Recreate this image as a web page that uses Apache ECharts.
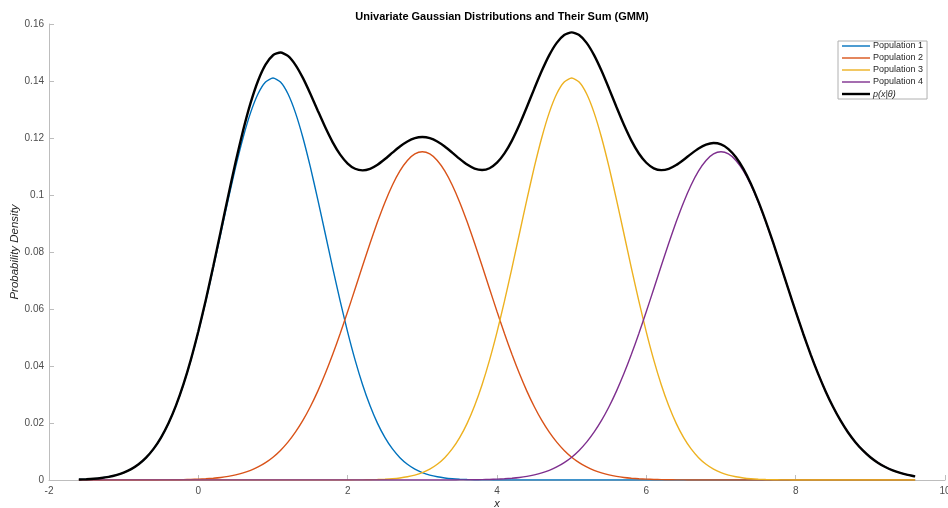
<!DOCTYPE html>
<html>
<head>
<meta charset="utf-8">
<script src="https://cdn.jsdelivr.net/npm/echarts@6/dist/echarts.min.js"></script>
<style>
  html, body { margin: 0; padding: 0; background: #fff; }
  #chart { width: 948px; height: 508px; }
</style>
</head>
<body>
<div id="chart"></div>
<script>
// x positions the curves were read at (step 0.1 from -1.6 to 9.6)
var xs = [
  -1.6, -1.5, -1.4, -1.3, -1.2, -1.1, -1.0, -0.9, -0.8, -0.7, -0.6, -0.5, -0.4, -0.3, -0.2, -0.1,
  0.0, 0.1, 0.2, 0.3, 0.4, 0.5, 0.6, 0.7, 0.8, 0.9, 1.0, 1.1, 1.2, 1.3, 1.4, 1.5, 1.6, 1.7, 1.8, 1.9,
  2.0, 2.1, 2.2, 2.3, 2.4, 2.5, 2.6, 2.7, 2.8, 2.9, 3.0, 3.1, 3.2, 3.3, 3.4, 3.5, 3.6, 3.7, 3.8, 3.9,
  4.0, 4.1, 4.2, 4.3, 4.4, 4.5, 4.6, 4.7, 4.8, 4.9, 5.0, 5.1, 5.2, 5.3, 5.4, 5.5, 5.6, 5.7, 5.8, 5.9,
  6.0, 6.1, 6.2, 6.3, 6.4, 6.5, 6.6, 6.7, 6.8, 6.9, 7.0, 7.1, 7.2, 7.3, 7.4, 7.5, 7.6, 7.7, 7.8, 7.9,
  8.0, 8.1, 8.2, 8.3, 8.4, 8.5, 8.6, 8.7, 8.8, 8.9, 9.0, 9.1, 9.2, 9.3, 9.4, 9.5, 9.6]

var pop1 = [
  0.00016, 0.00027, 0.00044, 0.00071, 0.00112, 0.00172, 0.00258, 0.00382, 0.00552, 0.00784, 0.01090, 0.01487,
  0.01987, 0.02603, 0.03342, 0.04206, 0.05189, 0.06275, 0.07437, 0.08641, 0.09841, 0.10985, 0.12019, 0.12891,
  0.13552, 0.13964, 0.14105, 0.13964, 0.13552, 0.12891, 0.12019, 0.10985, 0.09841, 0.08641, 0.07437, 0.06275,
  0.05189, 0.04206, 0.03342, 0.02603, 0.01987, 0.01487, 0.01090, 0.00784, 0.00552, 0.00382, 0.00258, 0.00172,
  0.00112, 0.00071, 0.00044, 0.00027, 0.00016, 0.00010, 0.00006, 0.00003, 0.00002, 0.00001,
  0, 0, 0, 0, 0, 0, 0, 0, 0, 0, 0, 0, 0, 0, 0, 0, 0, 0, 0, 0, 0, 0, 0, 0, 0, 0, 0, 0, 0, 0, 0, 0, 0, 0, 0,
  0, 0, 0, 0, 0, 0, 0, 0, 0, 0, 0, 0, 0, 0, 0, 0, 0, 0, 0, 0, 0, 0, 0, 0, 0]

var pop2 = [
  0, 0, 0, 0, 0, 0, 0, 0,
  0.00001, 0.00001, 0.00002, 0.00003, 0.00005, 0.00008, 0.00013, 0.00019, 0.00029, 0.00042, 0.00062, 0.00089,
  0.00127, 0.00179, 0.00248, 0.00339, 0.00457, 0.00609, 0.00800, 0.01038, 0.01328, 0.01677, 0.02090, 0.02570,
  0.03118, 0.03733, 0.04410, 0.05140, 0.05913, 0.06711, 0.07517, 0.08307, 0.09059, 0.09749, 0.10351, 0.10846,
  0.11213, 0.11440, 0.11517, 0.11440, 0.11213, 0.10846, 0.10351, 0.09749, 0.09059, 0.08307, 0.07517, 0.06711,
  0.05913, 0.05140, 0.04410, 0.03733, 0.03118, 0.02570, 0.02090, 0.01677, 0.01328, 0.01038, 0.00800, 0.00609,
  0.00457, 0.00339, 0.00248, 0.00179, 0.00127, 0.00089, 0.00062, 0.00042, 0.00029, 0.00019, 0.00013, 0.00008,
  0.00005, 0.00003, 0.00002, 0.00001, 0.00001,
  0, 0, 0, 0, 0, 0, 0, 0, 0, 0, 0, 0, 0, 0, 0, 0, 0, 0, 0, 0, 0, 0, 0, 0, 0, 0, 0, 0]

var pop3 = [
  0, 0, 0, 0, 0, 0, 0, 0, 0, 0, 0, 0, 0, 0, 0, 0, 0, 0, 0, 0, 0, 0, 0, 0, 0, 0, 0, 0, 0, 0, 0, 0, 0, 0, 0,
  0.00001, 0.00002, 0.00003, 0.00006, 0.00010, 0.00016, 0.00027, 0.00044, 0.00071, 0.00112, 0.00172, 0.00258,
  0.00382, 0.00552, 0.00784, 0.01090, 0.01487, 0.01987, 0.02603, 0.03342, 0.04206, 0.05189, 0.06275, 0.07437,
  0.08641, 0.09841, 0.10985, 0.12019, 0.12891, 0.13552, 0.13964, 0.14105, 0.13964, 0.13552, 0.12891, 0.12019,
  0.10985, 0.09841, 0.08641, 0.07437, 0.06275, 0.05189, 0.04206, 0.03342, 0.02603, 0.01987, 0.01487, 0.01090,
  0.00784, 0.00552, 0.00382, 0.00258, 0.00172, 0.00112, 0.00071, 0.00044, 0.00027, 0.00016, 0.00010, 0.00006,
  0.00003, 0.00002, 0.00001,
  0, 0, 0, 0, 0, 0, 0, 0, 0, 0, 0, 0, 0, 0, 0]

var pop4 = [
  0, 0, 0, 0, 0, 0, 0, 0, 0, 0, 0, 0, 0, 0, 0, 0, 0, 0, 0, 0, 0, 0, 0, 0, 0, 0, 0, 0, 0, 0, 0, 0, 0, 0, 0,
  0, 0, 0, 0, 0, 0, 0, 0, 0, 0, 0, 0, 0,
  0.00001, 0.00001, 0.00002, 0.00003, 0.00005, 0.00008, 0.00013, 0.00019, 0.00029, 0.00042, 0.00062, 0.00089,
  0.00127, 0.00179, 0.00248, 0.00339, 0.00457, 0.00609, 0.00800, 0.01038, 0.01328, 0.01677, 0.02090, 0.02570,
  0.03118, 0.03733, 0.04410, 0.05140, 0.05913, 0.06711, 0.07517, 0.08307, 0.09059, 0.09749, 0.10351, 0.10846,
  0.11213, 0.11440, 0.11517, 0.11440, 0.11213, 0.10846, 0.10351, 0.09749, 0.09059, 0.08307, 0.07517, 0.06711,
  0.05913, 0.05140, 0.04410, 0.03733, 0.03118, 0.02570, 0.02090, 0.01677, 0.01328, 0.01038, 0.00800, 0.00609,
  0.00457, 0.00339, 0.00248, 0.00179, 0.00127]

var mixture = [
  0.00016, 0.00027, 0.00044, 0.00071, 0.00112, 0.00172, 0.00258, 0.00382, 0.00553, 0.00785, 0.01092, 0.01490,
  0.01992, 0.02611, 0.03355, 0.04225, 0.05218, 0.06317, 0.07499, 0.08730, 0.09968, 0.11164, 0.12267, 0.13230,
  0.14009, 0.14573, 0.14905, 0.15002, 0.14880, 0.14568, 0.14109, 0.13555, 0.12959, 0.12374, 0.11847, 0.11416,
  0.11104, 0.10920, 0.10865, 0.10920, 0.11062, 0.11263, 0.11485, 0.11701, 0.11877, 0.11994, 0.12033, 0.11994,
  0.11878, 0.11702, 0.11487, 0.11266, 0.11067, 0.10928, 0.10878, 0.10939, 0.11133, 0.11458, 0.11909, 0.12463,
  0.13086, 0.13734, 0.14357, 0.14907, 0.15337, 0.15611, 0.15705, 0.15611, 0.15337, 0.14907, 0.14357, 0.13734,
  0.13086, 0.12463, 0.11909, 0.11457, 0.11131, 0.10936, 0.10872, 0.10918, 0.11051, 0.11239, 0.11443, 0.11631,
  0.11766, 0.11822, 0.11775, 0.11612, 0.11325, 0.10917, 0.10395, 0.09776, 0.09075, 0.08317, 0.07523, 0.06714,
  0.05915, 0.05141, 0.04410, 0.03733, 0.03118, 0.02570, 0.02090, 0.01677, 0.01328, 0.01038, 0.00800, 0.00609,
  0.00457, 0.00339, 0.00248, 0.00179, 0.00127]

var names = ['Population 1', 'Population 2', 'Population 3', 'Population 4', 'p(x|θ)']
var colors = ['#0072BD', '#D95319', '#EDB120', '#7E2F8E', '#000000']
var xTicks = { min: -2, max: 10, step: 2 }
var yTicks = { min: 0, max: 0.16, step: 0.02 }

function pairs(ys) {
  return xs.map(function (x, i) { return [x, ys[i]] })
}

var axisGrey = '#bdbdbd'
var labelGrey = '#4d4d4d'
var font = 'Liberation Sans, Arial, sans-serif'

// legend swatches: a plain bar, the outer moves keep the box at 28x10
var thinBar = 'path://M0,0M28,10M0,4.3H28V5.7H0Z'
var thickBar = 'path://M0,0M28,10M0,3.8H28V6.2H0Z'

var chart = echarts.init(document.getElementById('chart'))

var curves = [pop1, pop2, pop3, pop4, mixture]
var series = curves.map(function (ys, i) {
  return {
    name: names[i],
    type: 'line',
    data: pairs(ys),
    symbol: 'none',
    showSymbol: false,
    smooth: 0.2,
    color: colors[i],
    lineStyle: { width: i === 4 ? 2.4 : 1.4, color: colors[i] },
    z: i === 4 ? 10 : 2 + i,
    animation: false
  }
})

chart.setOption({
  backgroundColor: '#fff',
  animation: false,
  title: {
    text: 'Univariate Gaussian Distributions and Their Sum (GMM)',
    left: 497,
    textAlign: 'center',
    top: 6,
    textStyle: { fontFamily: font, fontSize: 11, fontWeight: 'bold', color: '#000' }
  },
  legend: {
    orient: 'vertical',
    left: 838,
    top: 41,
    padding: [0, 4, 0, 4],
    itemWidth: 28,
    itemHeight: 10,
    itemGap: 2,
    borderColor: '#b0b0b0',
    borderWidth: 1,
    backgroundColor: '#fff',
    data: names.map(function (n, i) {
      return { name: n, icon: i === 4 ? thickBar : thinBar }
    }),
    formatter: function (name) {
      return name === 'p(x|θ)' ? '{i|' + name + '}' : name
    },
    textStyle: {
      fontFamily: font, fontSize: 9, color: '#262626', padding: [0, 0, 0, -2],
      rich: { i: { fontFamily: font, fontSize: 9, fontStyle: 'italic', color: '#262626' } }
    }
  },
  grid: { left: 49, right: 3, top: 24, bottom: 28, outerBoundsMode: 'none' },
  xAxis: {
    type: 'value',
    min: xTicks.min,
    max: xTicks.max,
    interval: xTicks.step,
    name: 'x',
    nameLocation: 'middle',
    nameGap: 18,
    nameMoveOverlap: false,
    nameTextStyle: { fontFamily: font, fontSize: 11, fontStyle: 'italic', color: '#262626' },
    axisLine: { show: true, onZero: false, lineStyle: { color: axisGrey, width: 1 } },
    axisTick: { show: true, inside: true, length: 5, lineStyle: { color: axisGrey } },
    axisLabel: { fontFamily: font, fontSize: 10, color: labelGrey, margin: 6 },
    splitLine: { show: false }
  },
  yAxis: {
    type: 'value',
    min: yTicks.min,
    max: yTicks.max,
    interval: yTicks.step,
    name: 'Probability Density',
    nameLocation: 'middle',
    nameGap: 28,
    nameMoveOverlap: false,
    nameTextStyle: { fontFamily: font, fontSize: 11.5, fontStyle: 'italic', color: '#262626' },
    axisLine: { show: true, onZero: false, lineStyle: { color: axisGrey, width: 1 } },
    axisTick: { show: true, inside: true, length: 5, lineStyle: { color: axisGrey } },
    axisLabel: { fontFamily: font, fontSize: 10, color: labelGrey, margin: 5 },
    splitLine: { show: false }
  },
  series: series
})
</script>
</body>
</html>
